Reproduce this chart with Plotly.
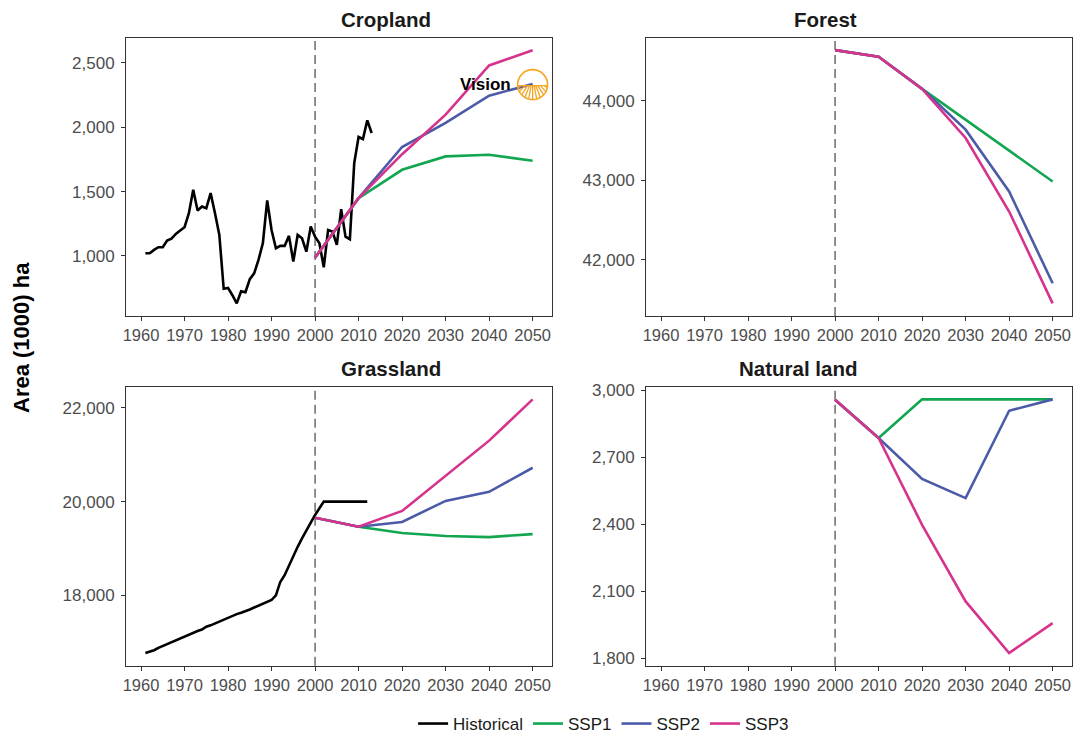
import math
import plotly.graph_objects as go

# ---------------- data ----------------
proj_years = [2000, 2010, 2020, 2030, 2040, 2050]

crop_hist_years = list(range(1961, 2014))
crop_hist = [1021, 1021, 1047, 1068, 1068, 1119, 1135, 1171, 1197, 1223,
             1332, 1514, 1353, 1384, 1371, 1488, 1332, 1163, 745, 752,
             695, 632, 725, 718, 820, 865, 969, 1099, 1431, 1202,
             1060, 1078, 1078, 1156, 956, 1163, 1137, 1033, 1228, 1150,
             1099, 912, 1202, 1189, 1086, 1363, 1150, 1130, 1721, 1924,
             1908, 2053, 1955]
crop_ssp1 = [987, 1449, 1669, 1773, 1786, 1739]
crop_ssp2 = [987, 1449, 1846, 2033, 2245, 2336]
crop_ssp3 = [987, 1449, 1790, 2097, 2479, 2598]

forest_ssp1 = [44638, 44555, 44151, 43764, 43377, 42986]
forest_ssp2 = [44638, 44555, 44151, 43638, 42860, 41705]
forest_ssp3 = [44638, 44555, 44151, 43533, 42608, 41453]

grass_hist_years = list(range(1961, 2013))
grass_hist = [16770, 16800, 16830, 16880, 16920, 16960, 17000, 17040, 17080, 17120,
              17170, 17200, 17240, 17270, 17330, 17360, 17400, 17440, 17480, 17530,
              17560, 17600, 17630, 17660, 17700, 17740, 17780, 17810, 17850, 17900,
              18001, 18286, 18430, 18644, 18837, 19036, 19216, 19393, 19550, 19715,
              19857, 20000, 20000, 20000, 20000, 20000, 20000, 20000, 20000, 20000,
              20000, 20000]
grass_ssp1 = [19657, 19464, 19329, 19265, 19243, 19307]
grass_ssp2 = [19657, 19464, 19565, 20015, 20208, 20722]
grass_ssp3 = [19657, 19464, 19800, 20550, 21300, 22180]

nat_ssp1 = [2958, 2787, 2960, 2960, 2960, 2960]
nat_ssp2 = [2958, 2787, 2604, 2518, 2909, 2960]
nat_ssp3 = [2958, 2787, 2398, 2055, 1824, 1958]

panel_titles = ["Cropland", "Forest", "Grassland", "Natural land"]
series_names = ["Historical", "SSP1", "SSP2", "SSP3"]
x_ticks = [1960, 1970, 1980, 1990, 2000, 2010, 2020, 2030, 2040, 2050]

# ---------------- styling ----------------
COLORS = {"Historical": "#000000", "SSP1": "#12A650", "SSP2": "#4C5BA8", "SSP3": "#D6338C"}
FONT = "Liberation Sans, Arial, Helvetica, sans-serif"
W, H = 1074, 735

# panel pixel boxes (left, right, top, bottom)
boxes = [(126, 552, 37.5, 316), (646, 1072, 37.5, 316),
         (126, 552, 386.7, 665.7), (646, 1072, 386.7, 665.7)]

fig = go.Figure()

panels = [
    (crop_ssp1, crop_ssp2, crop_ssp3, crop_hist_years, crop_hist),
    (forest_ssp1, forest_ssp2, forest_ssp3, None, None),
    (grass_ssp1, grass_ssp2, grass_ssp3, grass_hist_years, grass_hist),
    (nat_ssp1, nat_ssp2, nat_ssp3, None, None),
]
yticks = [dict(dtick=500, tick0=0), dict(dtick=1000, tick0=0),
          dict(dtick=2000, tick0=0), dict(dtick=300, tick0=0)]

shown = set()
layout_axes = {}
for i, (s1, s2, s3, hy, hv) in enumerate(panels):
    n = i + 1
    xa = "x" if n == 1 else f"x{n}"
    ya = "y" if n == 1 else f"y{n}"
    series = []
    if hy is not None:
        series.append(("Historical", hy, hv))
    series += [("SSP1", proj_years, s1), ("SSP2", proj_years, s2), ("SSP3", proj_years, s3)]
    ymin, ymax = math.inf, -math.inf
    for name, xs, ys in series:
        ymin = min(ymin, min(ys)); ymax = max(ymax, max(ys))
        fig.add_trace(go.Scatter(
            x=xs, y=ys, mode="lines", name=name, legendgroup=name,
            showlegend=name not in shown,
            line=dict(color=COLORS[name], width=2.6),
            xaxis=xa, yaxis=ya, hoverinfo="skip"))
        shown.add(name)
    l, r, t, b = boxes[i]
    pad = (ymax - ymin) * 0.05
    xkey = "xaxis" if n == 1 else f"xaxis{n}"
    ykey = "yaxis" if n == 1 else f"yaxis{n}"
    layout_axes[xkey] = dict(
        domain=[l / W, r / W], anchor=ya, range=[1961 - 4.45, 2050 + 4.45],
        tickvals=x_ticks, ticks="outside", ticklen=4, tickwidth=1, tickcolor="#333333",
        showline=True, linecolor="#333333", linewidth=1, mirror=True,
        showgrid=False, zeroline=False,
        tickfont=dict(family=FONT, size=16.5, color="#4D4D4D"))
    layout_axes[ykey] = dict(
        domain=[1 - b / H, 1 - t / H], anchor=xa, range=[ymin - pad, ymax + pad],
        ticks="outside", ticklen=4, tickwidth=1, tickcolor="#333333",
        showline=True, linecolor="#333333", linewidth=1, mirror=True,
        showgrid=False, zeroline=False, tickformat=",d", ticklabelstandoff=3,
        tickfont=dict(family=FONT, size=17, color="#4D4D4D"), **yticks[i])
    # dashed reference line at 2000
    fig.add_shape(type="line", xref=xa, yref=f"{ya} domain", x0=2000, x1=2000, y0=0, y1=1,
                  line=dict(color="#555555", width=1.3, dash="9px,5px"), layer="below")
    # panel title
    fig.add_annotation(text=f"<b>{panel_titles[i]}</b>", xref="paper", yref="paper",
                       x=(l + r) / 2 / W, y=1 - (t - 18) / H, yanchor="middle",
                       showarrow=False, font=dict(family=FONT, size=20.5, color="#1A1A1A"))

fig.update_layout(**layout_axes)

# y-axis title
fig.add_annotation(text="<b>Area (1000) ha</b>", xref="paper", yref="paper",
                   x=21 / W, y=1 - 338 / H, textangle=-90, showarrow=False,
                   xanchor="center", yanchor="middle",
                   font=dict(family=FONT, size=22, color="#000000"))

# "Vision" logo in the cropland panel
ORANGE = "#F5A623"
LOGO_Y = 2330
fig.add_annotation(text="<b>Vision</b>", xref="x", yref="y", x=2050, y=LOGO_Y,
                   xshift=-47, showarrow=False, xanchor="center", yanchor="middle",
                   font=dict(family=FONT, size=17, color="#000000"))
R = 15
fig.add_shape(type="circle", xref="x", yref="y", xsizemode="pixel", ysizemode="pixel",
              xanchor=2050, yanchor=LOGO_Y, x0=-R, x1=R, y0=-R, y1=R,
              line=dict(color=ORANGE, width=1.6), fillcolor="rgba(0,0,0,0)")
segs = []
fy = 7.0
horizon = -1.0
for k in range(11):
    th = math.radians(-168 + k * 15.6)
    tx, ty = R * math.cos(th), R * math.sin(th)
    tt = (fy - horizon) / (fy - ty)
    sx, sy = tt * tx, fy + tt * (ty - fy)
    segs.append(f"M{sx:.2f},{sy:.2f} L{tx:.2f},{ty:.2f}")
fig.add_shape(type="path", xref="x", yref="y", xsizemode="pixel", ysizemode="pixel",
              xanchor=2050, yanchor=LOGO_Y, path=" ".join(segs),
              line=dict(color=ORANGE, width=1.3))
fig.add_shape(type="line", xref="x", yref="y", xsizemode="pixel", ysizemode="pixel",
              xanchor=2050, yanchor=LOGO_Y, x0=-R * 0.99, x1=R * 0.99, y0=horizon, y1=horizon,
              line=dict(color=ORANGE, width=1.2))

fig.update_layout(
    width=W, height=H,
    margin=dict(l=0, r=0, t=0, b=0, autoexpand=False),
    paper_bgcolor="white", plot_bgcolor="white",
    showlegend=True,
    legend=dict(orientation="h", x=0.562, xanchor="center", y=1 - 724 / H, yanchor="middle",
                font=dict(family=FONT, size=17, color="#1A1A1A"),
                itemwidth=30, bgcolor="rgba(0,0,0,0)"),
)

fig.write_html("out.html", config={"displayModeBar": False},
               post_script="document.body.style.margin='0px';document.body.style.overflow='hidden';")
